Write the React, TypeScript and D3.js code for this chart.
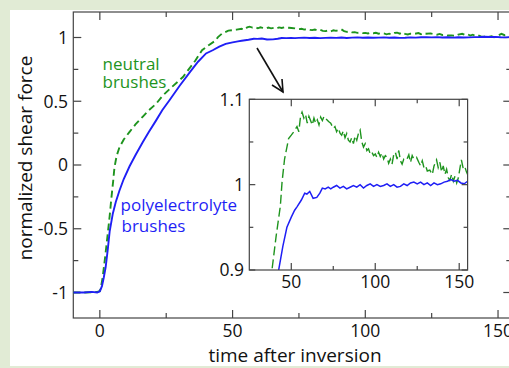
import * as d3 from "d3"

// time after inversion
const polyTime = [-10, -6, -3, -1, 0, 0.8, 1.5, 2.2, 3, 3.7, 4.9, 6, 7.4, 9, 11.2, 13.5, 16.2, 18.5, 21.2, 23.5, 26.3, 30, 34, 37, 40, 42.5, 45, 47.4, 50, 52, 53.4, 56, 58, 59.3, 61, 63, 65.2, 67, 68.5, 70.2, 72, 73.5, 75, 77, 79, 81, 83, 85, 87, 89, 91, 93, 95, 97, 99, 101, 103, 105, 107, 109, 111, 113, 115, 117, 119, 121, 123, 125, 127, 129, 131, 133, 135, 137, 139, 141, 143, 145, 147, 149, 151, 153, 155]
const polyForce = [-1.0, -1.0, -0.995, -1.0, -0.99, -0.95, -0.88, -0.8, -0.66, -0.52, -0.38, -0.29, -0.2, -0.11, -0.01, 0.08, 0.18, 0.26, 0.35, 0.43, 0.51, 0.62, 0.73, 0.81, 0.875, 0.9, 0.928, 0.95, 0.962, 0.97, 0.974, 0.982, 0.99, 0.989, 0.992, 0.984, 0.985, 0.99, 0.996, 0.995, 0.997, 0.995, 0.997, 0.999, 0.996, 0.998, 0.995, 0.997, 0.999, 0.997, 1.0, 0.996, 0.999, 1.001, 0.998, 1.0, 0.998, 0.999, 1.001, 0.998, 1.0, 0.997, 0.998, 1.001, 0.999, 1.002, 1.003, 1.001, 1.003, 1.0, 1.002, 0.999, 1.002, 1.0, 1.001, 1.003, 1.004, 1.006, 1.004, 1.005, 1.002, 1.001, 1.004]

const neutralTime = [-10, -6, -3, -1, 0, 0.5, 1.1, 2, 3, 3.7, 4.3, 5, 5.5, 6.3, 7.4, 9, 11.2, 13.5, 16.2, 18.5, 21.2, 23.5, 26.5, 31.3, 36, 38.5, 41, 43.5, 44.5, 46, 48.4, 50, 51.5, 53.4, 54.5, 55.5, 56.4, 57.5, 58.5, 59.5, 60.5, 61.3, 62.5, 63.5, 64.5, 65.5, 66.5, 67.5, 68.5, 69.5, 70.2, 71.2, 72.2, 73.5, 75, 76, 77, 78, 79.1, 80, 81, 82, 83, 84, 85, 86, 87, 88, 89, 90, 91, 92, 93, 94, 95, 96, 97, 98, 99, 100, 101, 102, 103, 104, 105, 106, 107, 108, 109, 110, 111, 112, 113, 114, 115, 116, 117, 118.7, 120, 121, 122, 123, 124.6, 126, 127, 128, 129, 130, 131, 132.5, 134, 135, 136.5, 137.5, 138.5, 139.5, 140.5, 141.5, 142.5, 143.5, 144.4, 145.5, 146.5, 147.5, 148.5, 149.5, 150.5, 151.3, 152.5, 153.5, 154.3, 155]
const neutralForce = [-1.0, -1.0, -0.998, -0.995, -0.99, -0.95, -0.875, -0.72, -0.535, -0.4, -0.27, -0.13, -0.02, 0.07, 0.14, 0.2, 0.26, 0.32, 0.38, 0.43, 0.48, 0.54, 0.6, 0.69, 0.82, 0.9, 0.94, 0.975, 1.003, 1.03, 1.054, 1.058, 1.062, 1.068, 1.062, 1.08, 1.085, 1.078, 1.082, 1.072, 1.08, 1.076, 1.07, 1.078, 1.072, 1.076, 1.07, 1.079, 1.075, 1.08, 1.078, 1.076, 1.074, 1.072, 1.066, 1.068, 1.062, 1.066, 1.06, 1.058, 1.063, 1.055, 1.06, 1.052, 1.05, 1.055, 1.048, 1.057, 1.052, 1.06, 1.064, 1.05, 1.044, 1.048, 1.04, 1.042, 1.036, 1.038, 1.034, 1.036, 1.032, 1.038, 1.033, 1.037, 1.03, 1.034, 1.032, 1.025, 1.03, 1.024, 1.035, 1.038, 1.03, 1.04, 1.028, 1.024, 1.03, 1.029, 1.035, 1.026, 1.034, 1.03, 1.032, 1.026, 1.022, 1.028, 1.02, 1.022, 1.016, 1.017, 1.012, 1.022, 1.029, 1.02, 1.026, 1.015, 1.022, 1.012, 1.018, 1.008, 1.005, 1.012, 1.004, 1.01, 1.002, 1.008, 1.02, 1.029, 1.018, 1.02, 1.015, 1.012]

const mainXTicks = [0, 50, 100, 150]
const mainXMinor = [25, 75, 125]
const mainYTicks = [-1, -0.5, 0, 0.5, 1]
const mainYMinor = [-0.75, -0.25, 0.25, 0.75]
const insetXTicks = [50, 100, 150]
const insetXMinor = [75, 125]
const insetYTicks = [0.9, 1, 1.1]
const insetYMinor = [0.95, 1.05]

const GREEN = "#1e941e"
const BLUE = "#1f1ff5"
const AXIS = "#444"
const FONT = "'Open Sans', sans-serif"

type Pt = [number, number]
const polyData: Pt[] = polyTime.map((t, i) => [t, polyForce[i]])
const neutralData: Pt[] = neutralTime.map((t, i) => [t, neutralForce[i]])

const fmt = (v: number) => String(v)

const App = () => {
    const W = 509, H = 368
    // main plot
    const x = d3.scaleLinear().domain([-10, 155]).range([73.3, 511.3])
    const y = d3.scaleLinear().domain([-1.2, 1.2]).range([318, 12])
    // inset
    const ix = d3.scaleLinear().domain([25, 155]).range([249.3, 467.6])
    const iy = d3.scaleLinear().domain([0.9, 1.1]).range([270, 99.3])

    const line = d3.line<Pt>().x(d => x(d[0])).y(d => y(d[1]))
    const iline = d3.line<Pt>().x(d => ix(d[0])).y(d => iy(d[1]))

    const [x0, x1] = x.range()
    const [y0, y1] = y.range()
    const [ix0, ix1] = ix.range()
    const [iy0, iy1] = iy.range()

    return (
        <svg width={W} height={H} style={{ position: "absolute", left: 0, top: 0 }} fontFamily={FONT}>
            <defs>
                <clipPath id="mainClip"><rect x={x0} y={y1} width={x1 - x0} height={y0 - y1} /></clipPath>
                <clipPath id="insetClip"><rect x={ix0} y={iy1} width={ix1 - ix0} height={iy0 - iy1} /></clipPath>
            </defs>
            <rect width={W} height={H} fill="#e1ebd5" />
            <rect x={10} y={10} width={W - 10} height={356} fill="#fff" />

            {/* main frame */}
            <g stroke={AXIS} strokeWidth={1.2} fill="none">
                <rect x={x0} y={y1} width={x1 - x0} height={y0 - y1} />
                {mainXTicks.map(t => (
                    <g key={"mx" + t}>
                        <line x1={x(t)} x2={x(t)} y1={y0} y2={y0 - 8} />
                        <line x1={x(t)} x2={x(t)} y1={y1} y2={y1 + 8} />
                    </g>
                ))}
                {mainXMinor.map(t => (
                    <g key={"mxm" + t}>
                        <line x1={x(t)} x2={x(t)} y1={y0} y2={y0 - 5} />
                        <line x1={x(t)} x2={x(t)} y1={y1} y2={y1 + 5} />
                    </g>
                ))}
                {mainYTicks.map(t => (
                    <g key={"my" + t}>
                        <line x1={x0} x2={x0 + 8} y1={y(t)} y2={y(t)} />
                        <line x1={x1} x2={x1 - 8} y1={y(t)} y2={y(t)} />
                    </g>
                ))}
                {mainYMinor.map(t => (
                    <g key={"mym" + t}>
                        <line x1={x0} x2={x0 + 5} y1={y(t)} y2={y(t)} />
                        <line x1={x1} x2={x1 - 5} y1={y(t)} y2={y(t)} />
                    </g>
                ))}
            </g>
            <g fontSize={17.5} fill="#111">
                {mainXTicks.map(t => (
                    <text key={"lx" + t} x={x(t)} y={337} textAnchor="middle">{fmt(t)}</text>
                ))}
                {mainYTicks.map(t => (
                    <text key={"ly" + t} x={68} y={y(t)} dy="0.36em" textAnchor="end">{fmt(t)}</text>
                ))}
            </g>
            <g fontSize={19} fill="#111">
                <text x={295} y={362} textAnchor="middle">time after inversion</text>
                <text transform="translate(32,158) rotate(-90)" textAnchor="middle">normalized shear force</text>
            </g>

            {/* main curves */}
            <g clipPath="url(#mainClip)" fill="none">
                <path d={line(neutralData) ?? ""} stroke={GREEN} strokeWidth={1.9} strokeDasharray="7,4" />
                <path d={line(polyData) ?? ""} stroke={BLUE} strokeWidth={1.9} />
            </g>

            <g fontSize={17}>
                <text x={102.5} y={70} fill={GREEN}>neutral</text>
                <text x={102.5} y={88} fill={GREEN}>brushes</text>
                <text x={120.5} y={211} fill={BLUE}>polyelectrolyte</text>
                <text x={121.5} y={232} fill={BLUE}>brushes</text>
            </g>

            {/* arrow */}
            <g stroke="#111" strokeWidth={1.6} fill="none">
                <line x1={257} y1={48} x2={283} y2={92} />
                <polyline points={`${283 - 1},${92 - 13} ${283},${92} ${283 - 11},${92 - 7}`} />
            </g>

            {/* inset */}
            <rect x={ix0} y={iy1} width={ix1 - ix0} height={iy0 - iy1} fill="#fff" />
            <g clipPath="url(#insetClip)" fill="none">
                <path d={iline(neutralData) ?? ""} stroke={GREEN} strokeWidth={1.4} strokeDasharray="9,4" />
                <path d={iline(polyData) ?? ""} stroke={BLUE} strokeWidth={1.5} />
            </g>
            <g stroke={AXIS} strokeWidth={1.2} fill="none">
                <rect x={ix0} y={iy1} width={ix1 - ix0} height={iy0 - iy1} />
                {insetXTicks.map(t => (
                    <g key={"ix" + t}>
                        <line x1={ix(t)} x2={ix(t)} y1={iy0} y2={iy0 - 7} />
                        <line x1={ix(t)} x2={ix(t)} y1={iy1} y2={iy1 + 7} />
                    </g>
                ))}
                {insetXMinor.map(t => (
                    <g key={"ixm" + t}>
                        <line x1={ix(t)} x2={ix(t)} y1={iy0} y2={iy0 - 4} />
                        <line x1={ix(t)} x2={ix(t)} y1={iy1} y2={iy1 + 4} />
                    </g>
                ))}
                {insetYTicks.map(t => (
                    <g key={"iy" + t}>
                        <line x1={ix0} x2={ix0 + 6} y1={iy(t)} y2={iy(t)} />
                        <line x1={ix1} x2={ix1 - 6} y1={iy(t)} y2={iy(t)} />
                    </g>
                ))}
                {insetYMinor.map(t => (
                    <g key={"iym" + t}>
                        <line x1={ix0} x2={ix0 + 4} y1={iy(t)} y2={iy(t)} />
                        <line x1={ix1} x2={ix1 - 4} y1={iy(t)} y2={iy(t)} />
                    </g>
                ))}
            </g>
            <g fontSize={17.5} fill="#111">
                {insetXTicks.map(t => (
                    <text key={"ilx" + t} x={ix(t)} y={288} textAnchor="middle">{fmt(t)}</text>
                ))}
                {insetYTicks.map(t => (
                    <text key={"ily" + t} x={244} y={iy(t)} dy="0.36em" textAnchor="end">{fmt(t)}</text>
                ))}
            </g>
        </svg>
    )
}

export default App
